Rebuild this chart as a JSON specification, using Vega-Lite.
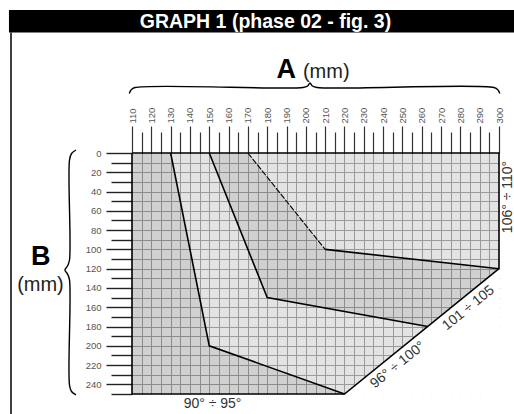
{
  "$schema": "https://vega.github.io/schema/vega-lite/v6.json",
  "width": 367,
  "height": 241,
  "autosize": {"type": "none"},
  "padding": {"left": 132, "top": 153, "right": 15, "bottom": 20},
  "background": "white",
  "config": {"view": {"stroke": null}, "font": "Liberation Sans"},
  "datasets": {
    "polys": [
      {"poly": "P1", "shade": "dark", "o": 1, "x": 110, "y": 0},
      {"poly": "P1", "shade": "dark", "o": 2, "x": 130, "y": 0},
      {"poly": "P1", "shade": "dark", "o": 3, "x": 150, "y": 200},
      {"poly": "P1", "shade": "dark", "o": 4, "x": 220, "y": 250},
      {"poly": "P1", "shade": "dark", "o": 5, "x": 110, "y": 250},
      {"poly": "P2", "shade": "light", "o": 1, "x": 130, "y": 0},
      {"poly": "P2", "shade": "light", "o": 2, "x": 150, "y": 0},
      {"poly": "P2", "shade": "light", "o": 3, "x": 180, "y": 150},
      {"poly": "P2", "shade": "light", "o": 4, "x": 263.1, "y": 180},
      {"poly": "P2", "shade": "light", "o": 5, "x": 220, "y": 250},
      {"poly": "P2", "shade": "light", "o": 6, "x": 150, "y": 200},
      {"poly": "P3", "shade": "dark", "o": 1, "x": 150, "y": 0},
      {"poly": "P3", "shade": "dark", "o": 2, "x": 170, "y": 0},
      {"poly": "P3", "shade": "dark", "o": 3, "x": 210, "y": 100},
      {"poly": "P3", "shade": "dark", "o": 4, "x": 300, "y": 120},
      {"poly": "P3", "shade": "dark", "o": 5, "x": 263.1, "y": 180},
      {"poly": "P3", "shade": "dark", "o": 6, "x": 180, "y": 150},
      {"poly": "P4", "shade": "light", "o": 1, "x": 170, "y": 0},
      {"poly": "P4", "shade": "light", "o": 2, "x": 300, "y": 0},
      {"poly": "P4", "shade": "light", "o": 3, "x": 300, "y": 120},
      {"poly": "P4", "shade": "light", "o": 4, "x": 210, "y": 100},
      {"poly": "C", "shade": "none", "o": 1, "x": 300, "y": 120},
      {"poly": "C", "shade": "none", "o": 2, "x": 300.6, "y": 250.6},
      {"poly": "C", "shade": "none", "o": 3, "x": 220, "y": 250.6}
    ],
    "lines": [
      {"line": "l1", "style": "solid", "o": 1, "x": 130, "y": 0},
      {"line": "l1", "style": "solid", "o": 2, "x": 150, "y": 200},
      {"line": "l1", "style": "solid", "o": 3, "x": 220, "y": 250},
      {"line": "l2", "style": "solid", "o": 1, "x": 150, "y": 0},
      {"line": "l2", "style": "solid", "o": 2, "x": 180, "y": 150},
      {"line": "l2", "style": "solid", "o": 3, "x": 263.1, "y": 180},
      {"line": "l3b", "style": "solid", "o": 1, "x": 210, "y": 100},
      {"line": "l3b", "style": "solid", "o": 2, "x": 300, "y": 120},
      {"line": "l3a", "style": "dashed", "o": 1, "x": 170, "y": 0},
      {"line": "l3a", "style": "dashed", "o": 2, "x": 210, "y": 100}
    ],
    "frame": [
      {"o": 1, "x": 110, "y": 0},
      {"o": 2, "x": 300, "y": 0},
      {"o": 3, "x": 300, "y": 120},
      {"o": 4, "x": 220, "y": 250},
      {"o": 5, "x": 110, "y": 250},
      {"o": 6, "x": 110, "y": 0}
    ],
    "outer": [
      {"o": 1, "x": 47.36, "y": -125},
      {"o": 2, "x": 47.36, "y": 280}
    ],
    "braces": [
      {"b": "A", "o": 1, "x": 108.6, "y": -61.7},
      {"b": "A", "o": 2, "x": 109.5, "y": -65.4},
      {"b": "A", "o": 3, "x": 111.6, "y": -67.9},
      {"b": "A", "o": 4, "x": 198.5, "y": -67.9},
      {"b": "A", "o": 5, "x": 200.9, "y": -69.5},
      {"b": "A", "o": 6, "x": 202.15, "y": -72.6},
      {"b": "A", "o": 7, "x": 203.4, "y": -69.5},
      {"b": "A", "o": 8, "x": 205.8, "y": -67.9},
      {"b": "A", "o": 9, "x": 297.4, "y": -67.9},
      {"b": "A", "o": 10, "x": 299.5, "y": -65.4},
      {"b": "A", "o": 11, "x": 300.4, "y": -61.7},
      {"b": "B", "o": 1, "x": 81.0, "y": -3.1},
      {"b": "B", "o": 2, "x": 78.7, "y": 0.5},
      {"b": "B", "o": 3, "x": 77.64, "y": 7.3},
      {"b": "B", "o": 4, "x": 77.64, "y": 111.0},
      {"b": "B", "o": 5, "x": 76.6, "y": 117.2},
      {"b": "B", "o": 6, "x": 75.3, "y": 121.4},
      {"b": "B", "o": 7, "x": 76.6, "y": 125.5},
      {"b": "B", "o": 8, "x": 77.64, "y": 131.7},
      {"b": "B", "o": 9, "x": 77.64, "y": 240.7},
      {"b": "B", "o": 10, "x": 78.7, "y": 247.4},
      {"b": "B", "o": 11, "x": 81.0, "y": 251.0}
    ],
    "header": [
      {"x": 46.3, "x2": 312, "y": -148.3, "y2": -125}
    ],
    "texts": [
      {"role": "header", "t": "GRAPH 1 (phase 02 - fig. 3)", "x": 179.1, "y": -129.6},
      {"role": "big", "t": "A", "x": 189.9, "y": -78.1},
      {"role": "big", "t": "B", "x": 62.8, "y": 116.2},
      {"role": "mmleft", "t": "(mm)", "x": 198.5, "y": -78.3},
      {"role": "mmcenter", "t": "(mm)", "x": 62.6, "y": 142.9},
      {"role": "ang0", "t": "90° ÷ 95°", "x": 151.7, "y": 260.6},
      {"role": "ang39", "t": "96° ÷ 100°", "x": 247.6, "y": 219.9},
      {"role": "ang39", "t": "101 ÷ 105", "x": 284.2, "y": 160.8},
      {"role": "ang90", "t": "106° ÷ 110°", "x": 304.7, "y": 45.6}
    ]
  },
  "encoding": {
    "x": {
      "field": "x",
      "type": "quantitative",
      "scale": {"domain": [110, 300], "nice": false, "zero": false},
      "axis": {
        "orient": "top",
        "title": null,
        "values": [110,115,120,125,130,135,140,145,150,155,160,165,170,175,180,185,190,195,200,205,210,215,220,225,230,235,240,245,250,255,260,265,270,275,280,285,290,295,300],
        "domain": false,
        "grid": true,
        "gridColor": "#adadad",
        "gridWidth": 1,
        "gridOpacity": {"condition": {"test": "datum.value === 300 || datum.value === 110", "value": 0}, "value": 1},
        "tickColor": "#333333",
        "tickWidth": 1.2,
        "tickSize": {"condition": {"test": "datum.value % 10 === 0", "value": 27}, "value": 21},
        "labelExpr": "datum.value % 10 === 0 ? datum.label : ''",
        "labelAngle": -90,
        "labelAlign": "left",
        "labelBaseline": "middle",
        "labelFontSize": 9.5,
        "labelColor": "#555555",
        "labelPadding": 3,
        "labelOverlap": false,
        "labelBound": false,
        "labelFlush": false
      }
    },
    "y": {
      "field": "y",
      "type": "quantitative",
      "scale": {"domain": [0, 250], "nice": false, "zero": false, "reverse": true},
      "axis": {
        "orient": "left",
        "title": null,
        "values": [0,10,20,30,40,50,60,70,80,90,100,110,120,130,140,150,160,170,180,190,200,210,220,230,240,250],
        "domain": false,
        "grid": true,
        "gridColor": "#adadad",
        "gridWidth": 1,
        "gridOpacity": {"condition": {"test": "datum.value === 250 || datum.value === 0", "value": 0}, "value": 1},
        "tickColor": "#222222",
        "tickWidth": 1.4,
        "tickSize": {"condition": {"test": "datum.value % 20 === 0 && datum.value < 250", "value": 26}, "value": 21},
        "labelExpr": "datum.value % 20 === 0 && datum.value < 250 ? datum.label : ''",
        "labelFontSize": 9.5,
        "labelColor": "#555555",
        "labelPadding": 5,
        "labelOverlap": false,
        "labelBound": false,
        "labelFlush": false
      }
    }
  },
  "layer": [
    {
      "data": {"name": "polys"},
      "transform": [{"filter": "datum.shade === 'dark'"}],
      "mark": {"type": "line", "interpolate": "linear-closed", "fill": "#000000", "fillOpacity": 0.185, "strokeOpacity": 0},
      "encoding": {"detail": {"field": "poly"}, "order": {"field": "o"}}
    },
    {
      "data": {"name": "polys"},
      "transform": [{"filter": "datum.shade === 'light'"}],
      "mark": {"type": "line", "interpolate": "linear-closed", "fill": "#000000", "fillOpacity": 0.11, "strokeOpacity": 0},
      "encoding": {"detail": {"field": "poly"}, "order": {"field": "o"}}
    },
    {
      "data": {"name": "polys"},
      "transform": [{"filter": "datum.shade === 'none'"}],
      "mark": {"type": "line", "interpolate": "linear-closed", "fill": "#ffffff", "fillOpacity": 1, "strokeOpacity": 0},
      "encoding": {"detail": {"field": "poly"}, "order": {"field": "o"}}
    },
    {
      "data": {"name": "lines"},
      "transform": [{"filter": "datum.style === 'solid'"}],
      "mark": {"type": "line", "color": "#000000", "strokeWidth": 1.6},
      "encoding": {"detail": {"field": "line"}, "order": {"field": "o"}}
    },
    {
      "data": {"name": "lines"},
      "transform": [{"filter": "datum.style === 'dashed'"}],
      "mark": {"type": "line", "color": "#000000", "strokeWidth": 1.1, "strokeDash": [6, 1.5]},
      "encoding": {"detail": {"field": "line"}, "order": {"field": "o"}}
    },
    {
      "data": {"name": "frame"},
      "mark": {"type": "line", "color": "#000000", "strokeWidth": 1.6},
      "encoding": {"order": {"field": "o"}}
    },
    {
      "data": {"name": "outer"},
      "mark": {"type": "line", "color": "#000000", "strokeWidth": 1.5},
      "encoding": {"order": {"field": "o"}}
    },
    {
      "data": {"name": "braces"},
      "mark": {"type": "line", "color": "#000000", "strokeWidth": 1.4, "interpolate": "catmull-rom"},
      "encoding": {"detail": {"field": "b"}, "order": {"field": "o"}}
    },
    {
      "data": {"name": "header"},
      "mark": {"type": "rect", "color": "#000000"},
      "encoding": {"x2": {"field": "x2"}, "y2": {"field": "y2"}}
    },
    {
      "data": {"name": "texts"},
      "transform": [{"filter": "datum.role === 'header'"}],
      "mark": {"type": "text", "color": "#ffffff", "fontSize": 19.5, "fontWeight": "bold", "align": "center", "baseline": "alphabetic"},
      "encoding": {"text": {"field": "t"}}
    },
    {
      "data": {"name": "texts"},
      "transform": [{"filter": "datum.role === 'big'"}],
      "mark": {"type": "text", "color": "#000000", "fontSize": 27, "fontWeight": "bold", "align": "center", "baseline": "alphabetic"},
      "encoding": {"text": {"field": "t"}}
    },
    {
      "data": {"name": "texts"},
      "transform": [{"filter": "datum.role === 'mmleft'"}],
      "mark": {"type": "text", "color": "#222222", "fontSize": 20, "align": "left", "baseline": "alphabetic"},
      "encoding": {"text": {"field": "t"}}
    },
    {
      "data": {"name": "texts"},
      "transform": [{"filter": "datum.role === 'mmcenter'"}],
      "mark": {"type": "text", "color": "#222222", "fontSize": 20, "align": "center", "baseline": "alphabetic"},
      "encoding": {"text": {"field": "t"}}
    },
    {
      "data": {"name": "texts"},
      "transform": [{"filter": "datum.role === 'ang0'"}],
      "mark": {"type": "text", "color": "#333333", "fontSize": 14, "align": "center", "baseline": "middle"},
      "encoding": {"text": {"field": "t"}}
    },
    {
      "data": {"name": "texts"},
      "transform": [{"filter": "datum.role === 'ang39'"}],
      "mark": {"type": "text", "color": "#333333", "fontSize": 14, "align": "center", "baseline": "middle", "angle": 321},
      "encoding": {"text": {"field": "t"}}
    },
    {
      "data": {"name": "texts"},
      "transform": [{"filter": "datum.role === 'ang90'"}],
      "mark": {"type": "text", "color": "#333333", "fontSize": 14, "align": "center", "baseline": "middle", "angle": 270},
      "encoding": {"text": {"field": "t"}}
    }
  ]
}
